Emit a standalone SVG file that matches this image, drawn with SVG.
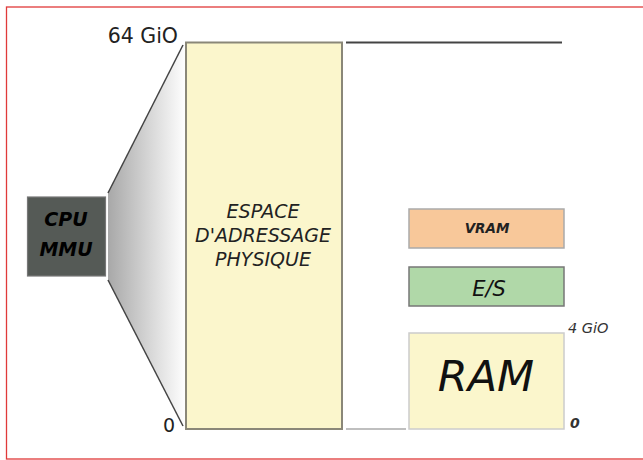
<svg xmlns="http://www.w3.org/2000/svg" width="643" height="460" viewBox="0 0 643 460">
<style>
text{font-family:"DejaVu Sans","Liberation Sans",sans-serif;}
.it{font-style:italic;}
.b{font-weight:bold;}
.box{stroke-width:1.5;}
</style>
<defs>
<linearGradient id="fan" x1="0" y1="0" x2="1" y2="0">
<stop offset="0" stop-color="#a8a8a8"/>
<stop offset="1" stop-color="#ffffff"/>
</linearGradient>
</defs>
<rect x="0" y="0" width="643" height="460" fill="#ffffff"/>
<rect x="6.5" y="7" width="660" height="452" fill="none" stroke="#e03a3a" stroke-width="1.3"/>
<g id="fan-out">
<polygon points="108,193 183,44 186,44 186,427 183,427 108,280" fill="url(#fan)"/>
<line x1="108" y1="193" x2="183" y2="45" stroke="#444" stroke-width="1.5"/>
<line x1="108" y1="280" x2="183" y2="426" stroke="#444" stroke-width="1.5"/>
</g>
<g id="connectors">
<line x1="346" y1="42.5" x2="562" y2="42.5" stroke="#444" stroke-width="1.8"/>
<line x1="346" y1="429" x2="406" y2="429" stroke="#aaa" stroke-width="1.5"/>
</g>
<g id="cpu">
<rect x="27.5" y="197" width="78" height="79" fill="#555a56" stroke="#777" stroke-width="1.2"/>
<text x="66" y="226" font-size="19" class="it b" text-anchor="middle" fill="#000">CPU</text>
<text x="66" y="256" font-size="19" class="it b" text-anchor="middle" fill="#000">MMU</text>
</g>
<g id="address-space">
<rect x="186" y="42.5" width="156" height="386.5" fill="#fbf6cc" stroke="#8a8778" stroke-width="2"/>
<text x="263" y="218" font-size="19" class="it" text-anchor="middle" fill="#222">ESPACE</text>
<text x="263" y="242" font-size="19" class="it" text-anchor="middle" fill="#222">D'ADRESSAGE</text>
<text x="263" y="266" font-size="19" class="it" text-anchor="middle" fill="#222">PHYSIQUE</text>
<text x="178" y="43" font-size="20.5" text-anchor="end" fill="#222">64 GiO</text>
<text x="175" y="432" font-size="19" text-anchor="end" fill="#222">0</text>
</g>
<g id="vram">
<rect x="409" y="209" width="155" height="39" fill="#f8c89a" stroke="#aaa" class="box"/>
<text x="487" y="233" font-size="13.5" class="it b" text-anchor="middle" fill="#222">VRAM</text>
</g>
<g id="es">
<rect x="409" y="267" width="155" height="39" fill="#b0d8a8" stroke="#777" class="box"/>
<text x="489" y="296" font-size="21" class="it" text-anchor="middle" fill="#111">E/S</text>
</g>
<g id="ram">
<rect x="409" y="333" width="155" height="96" fill="#fbf6cc" stroke="#ccc" class="box"/>
<text x="486" y="391" font-size="43" class="it" text-anchor="middle" fill="#111">RAM</text>
<text x="568" y="333" font-size="14.5" class="it" fill="#333">4 GiO</text>
<text x="570" y="428" font-size="14" class="it b" fill="#333">0</text>
</g>
</svg>
